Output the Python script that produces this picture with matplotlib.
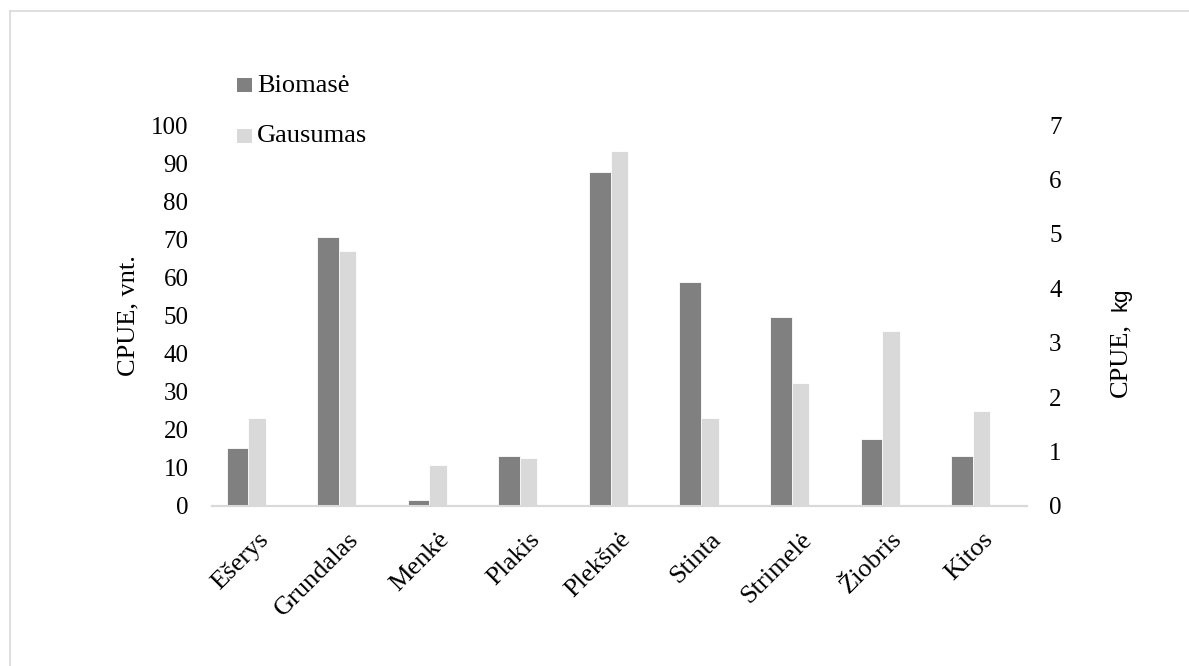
import matplotlib
matplotlib.use("Agg")
import matplotlib.pyplot as plt
import matplotlib.transforms as mtransforms
import numpy as np
from matplotlib.patches import Rectangle
from matplotlib.lines import Line2D

categories = ["Ešerys", "Grundalas", "Menkė", "Plakis", "Plekšnė",
              "Stinta", "Strimelė", "Žiobris", "Kitos"]
biomase_kg = [1.06, 4.94, 0.11, 0.91, 6.14, 4.12, 3.48, 1.24, 0.91]
gausumas_vnt = [23.0, 66.8, 10.8, 12.7, 93.3, 23.1, 32.3, 45.9, 24.9]
left_ticks = [0, 10, 20, 30, 40, 50, 60, 70, 80, 90, 100]
right_ticks = [0, 1, 2, 3, 4, 5, 6, 7]
legend_labels = ["Biomasė", "Gausumas"]

DARK = "#808080"
LIGHT = "#D9D9D9"
SERIF = ["Liberation Serif", "DejaVu Serif"]
W, H = 1189, 666

plt.rcParams['font.family'] = SERIF

fig = plt.figure(figsize=(W / 100, H / 100), dpi=100)
ax = fig.add_axes([212/W, 1-506/H, (1027-212)/W, (506-125)/H])
ax2 = ax.twinx()

x = np.arange(len(categories))
ax.bar(x - 0.0025, gausumas_vnt, width=0.193, color=LIGHT,
       edgecolor="white", linewidth=0.6, zorder=2)
ax2.bar(x - 0.2185, biomase_kg, width=0.239, color=DARK,
        edgecolor="white", linewidth=0.6, zorder=2)

ax.set_xlim(-0.5, len(categories) - 0.5)
ax.set_ylim(0, 100)
ax2.set_ylim(0, 7)
ax.set_yticks(left_ticks)
ax2.set_yticks(right_ticks)
ax.set_yticklabels([str(t) for t in left_ticks], fontsize=18)
ax2.set_yticklabels([str(t) for t in right_ticks], fontsize=18)
ax.set_xticks(x)
ax.set_xticklabels(categories, fontsize=19, rotation=45, ha="right",
                   rotation_mode="anchor")
shift = mtransforms.ScaledTranslation(4/100, 0, fig.dpi_scale_trans)
for lab in ax.get_xticklabels():
    lab.set_transform(lab.get_transform() + shift)

for a in (ax, ax2):
    for s in ("top", "left", "right"):
        a.spines[s].set_visible(False)
    a.spines["bottom"].set_color(LIGHT)
    a.spines["bottom"].set_linewidth(1.5)
    a.tick_params(length=0)
ax.tick_params(axis="y", pad=17)
ax2.tick_params(axis="y", pad=16)
ax.tick_params(axis="x", pad=16)

# axis titles
fig.text(128/W, 1-316/H, "CPUE, vnt.", rotation=90, fontsize=19,
         ha="center", va="center")
fig.text(1120/W, 1-397/H, "CPUE,", rotation=90, fontsize=19,
         ha="center", va="bottom")
fig.text(1121/W, 1-311/H, "kg", rotation=90, fontsize=16,
         family=["Liberation Sans", "DejaVu Sans"],
         ha="center", va="bottom")

# legend
legend_colors = [DARK, LIGHT]
legend_baselines = [91.5, 142.5]
for lab, col, yb in zip(legend_labels, legend_colors, legend_baselines):
    fig.add_artist(Rectangle((237/W, 1-(yb)/H), 15/W, 14/H,
                             facecolor=col, edgecolor="none",
                             transform=fig.transFigure))
    fig.text(257/W, 1-yb/H, lab, fontsize=19, ha="left", va="baseline")

# outer chart border (top and left visible)
fig.add_artist(Line2D([10/W, 1], [1-11/H, 1-11/H], color=LIGHT,
                      linewidth=1.2, transform=fig.transFigure))
fig.add_artist(Line2D([10/W, 10/W], [0, 1-11/H], color=LIGHT,
                      linewidth=1.2, transform=fig.transFigure))

fig.savefig("out.png", dpi=100)
